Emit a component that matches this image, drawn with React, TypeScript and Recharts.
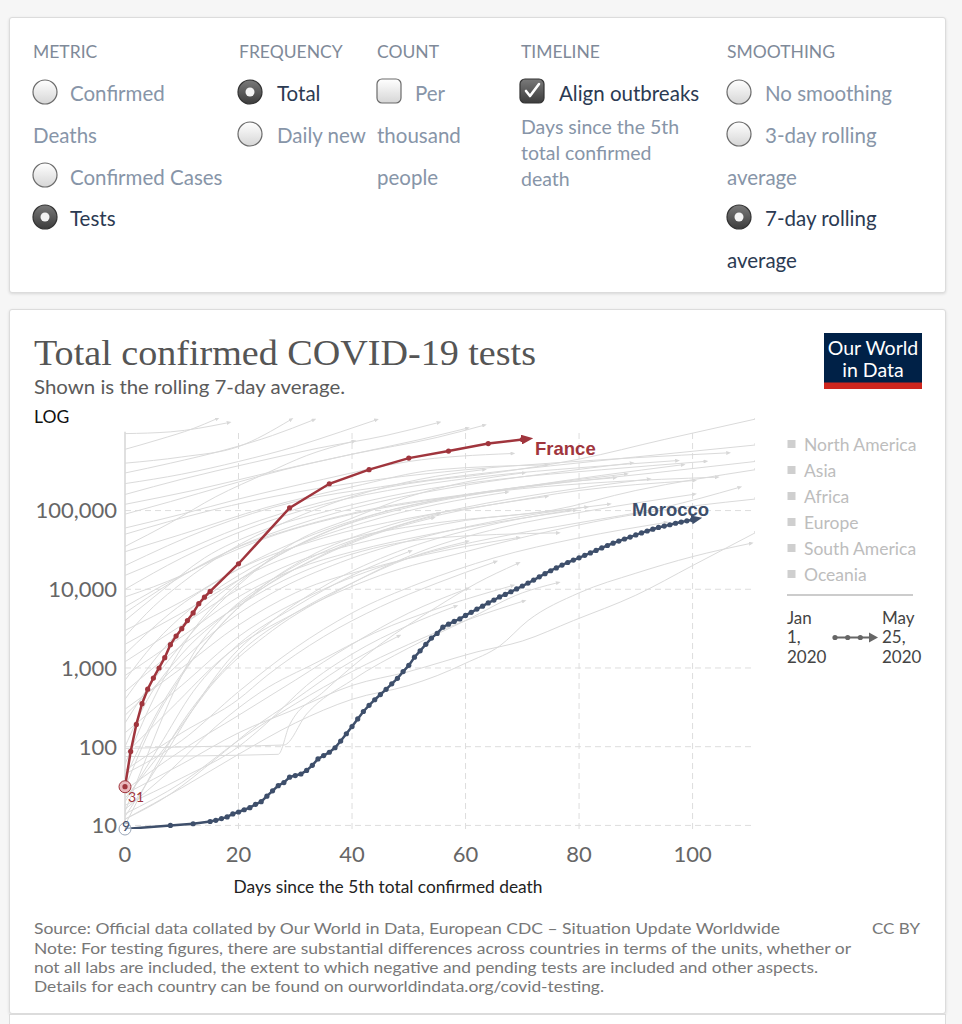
import React from "react";
import {
  LineChart,
  Line,
  XAxis,
  YAxis,
  CartesianGrid,
  ReferenceLine,
  ReferenceDot,
} from "recharts";

const FONT = "Lato, 'Noto Sans', sans-serif";
const FRANCE_COLOR = "#a0353d";
const MOROCCO_COLOR = "#3e4f6b";
const GRAY_LINE = "#dadada";

const X_TICKS = [0, 20, 40, 60, 80, 100];
const Y_TICKS = [10, 100, 1000, 10000, 100000];

const FRANCE_DAYS = [
  0, 1, 2, 3, 4, 5, 6, 7, 8, 9, 10, 11, 12, 13, 14, 15, 20, 29, 36, 43, 50, 57,
  64, 70,
];
const FRANCE_TESTS = [
  31, 87, 192, 352, 538, 745, 1000, 1350, 1980, 2540, 3160, 4000, 5000, 6560,
  7940, 9400, 21100, 108000, 219000, 331000, 464000, 570000, 710000, 800000,
];

const MOROCCO_DAYS = [
  0, 8, 12, 15, 16, 17, 18, 19, 20, 21, 22, 23, 24, 25, 26, 27, 28, 29, 30, 31,
  32, 33, 34, 35, 36, 37, 38, 39, 40, 41, 42, 43, 44, 45, 46, 47, 48, 49, 50,
  51, 52, 53, 54, 55, 56, 57, 58, 59, 60, 61, 62, 63, 64, 65, 66, 67, 68, 69,
  70, 71, 72, 73, 74, 75, 76, 77, 78, 79, 80, 81, 82, 83, 84, 85, 86, 87, 88,
  89, 90, 91, 92, 93, 94, 95, 96, 97, 98, 99, 100,
];
const MOROCCO_TESTS = [
  9, 10, 10.5, 11.2, 11.6, 12.2, 12.8, 14, 14.8, 15.8, 16.8, 18.5, 20, 23.5,
  27.5, 32, 35, 41, 43, 45, 50, 58, 70, 77, 85, 97, 118, 146, 180, 225, 280,
  335, 395, 460, 535, 630, 740, 900, 1080, 1370, 1650, 2000, 2400, 2750, 3300,
  3600, 3900, 4200, 4650, 5100, 5600, 6100, 6700, 7300, 8000, 8600, 9300,
  10100, 11000, 12000, 13100, 14400, 15800, 17200, 18700, 20300, 21900, 23500,
  25100, 27000, 29000, 31200, 33500, 36000, 38500, 41000, 43500, 46000, 49000,
  52000, 55000, 58000, 61000, 63500, 66000, 69000, 71500, 74000, 76500,
];

// other countries, [day, total tests]
const OTHER_COUNTRIES: [number, number][][] = [
  [[0, 950000], [8, 1000000], [18, 1300000]],
  [[0, 600000], [6, 800000], [12, 1100000], [16, 1450000]],
  [[0, 400000], [10, 480000], [20, 650000], [29, 1400000]],
  [[0, 300000], [8, 400000], [18, 600000], [26, 900000], [33, 1400000]],
  [[0, 220000], [10, 290000], [20, 420000], [30, 650000], [38, 1000000], [44, 1400000]],
  [[0, 160000], [10, 250000], [22, 400000], [34, 620000], [46, 900000], [55, 1300000]],
  [[0, 120000], [12, 180000], [25, 300000], [40, 520000], [55, 850000], [63, 1200000]],
  [[0, 90000], [8, 130000], [18, 210000], [28, 330000], [40, 520000], [52, 800000], [60, 1100000]],
  [[0, 60000], [10, 90000], [20, 140000], [35, 250000], [50, 420000], [68, 530000]],
  [[0, 35000], [8, 70000], [16, 150000], [25, 300000], [32, 500000], [40, 750000]],
  [[0, 30000], [10, 50000], [25, 110000], [40, 200000], [55, 330000], [74, 380000]],
  [[0, 50000], [15, 100000], [30, 170000], [45, 250000], [60, 330000], [75, 400000], [90, 470000], [106, 540000]],
  [[0, 20000], [15, 60000], [30, 130000], [45, 200000], [60, 280000], [75, 370000], [90, 480000], [111, 680000]],
  [[0, 15000], [10, 30000], [20, 60000], [35, 130000], [50, 220000], [65, 300000], [80, 450000], [95, 800000], [111, 1450000]],
  [[0, 10000], [10, 25000], [22, 60000], [35, 120000], [50, 200000], [65, 280000], [80, 350000], [97, 430000]],
  [[0, 8000], [10, 15000], [20, 35000], [30, 65000], [45, 130000], [60, 210000], [75, 300000], [89, 400000]],
  [[0, 6000], [10, 15000], [25, 45000], [40, 90000], [55, 140000], [70, 190000], [85, 230000], [104, 265000]],
  [[0, 5000], [8, 12000], [18, 30000], [30, 60000], [45, 110000], [60, 160000], [75, 220000], [86, 260000]],
  [[0, 4000], [6, 9000], [14, 25000], [24, 55000], [36, 100000], [50, 170000], [66, 250000], [84, 330000], [102, 420000]],
  [[0, 2500], [5, 6000], [10, 12000], [18, 30000], [28, 70000], [40, 150000], [52, 250000], [63, 330000]],
  [[0, 3000], [10, 7000], [20, 18000], [35, 45000], [50, 80000], [65, 120000], [80, 180000], [100, 240000]],
  [[0, 2000], [10, 5000], [25, 20000], [40, 45000], [55, 70000], [70, 90000], [81, 110000]],
  [[0, 1500], [8, 5000], [18, 15000], [30, 40000], [44, 90000], [58, 150000], [72, 210000], [88, 290000]],
  [[0, 1200], [10, 3500], [20, 10000], [30, 22000], [45, 45000], [60, 75000], [75, 100000], [90, 180000], [111, 330000]],
  [[0, 800], [10, 2500], [20, 8000], [30, 18000], [40, 30000], [55, 52000], [70, 80000], [79, 100000]],
  [[0, 700], [5, 2000], [12, 6000], [20, 15000], [30, 35000], [42, 70000], [55, 120000], [67, 170000]],
  [[0, 500], [8, 1500], [18, 5000], [28, 13000], [40, 28000], [55, 45000], [76, 52000]],
  [[0, 400], [6, 1500], [14, 6000], [24, 20000], [36, 55000], [50, 110000], [64, 170000], [78, 230000], [93, 300000], [111, 420000]],
  [[0, 300], [10, 1000], [20, 3500], [30, 9000], [45, 20000], [60, 35000], [69, 45000]],
  [[0, 250], [8, 900], [16, 3000], [26, 9000], [38, 22000], [52, 45000], [68, 80000], [85, 120000]],
  [[0, 200], [5, 700], [10, 2000], [15, 5000], [22, 15000], [30, 40000], [40, 80000], [50, 150000], [60, 230000], [70, 300000]],
  [[0, 150], [10, 600], [20, 2500], [35, 10000], [50, 25000], [65, 45000], [80, 70000], [95, 110000], [108, 195000]],
  [[0, 100], [4, 400], [10, 1500], [18, 5000], [28, 15000], [38, 35000], [50, 70000], [62, 110000], [74, 150000]],
  [[0, 80], [8, 300], [18, 1500], [30, 5000], [45, 15000], [60, 30000], [75, 55000], [90, 90000], [111, 140000]],
  [[0, 95], [12, 100], [28, 105], [32, 260], [40, 700], [50, 1800], [60, 4000], [70, 9000], [76, 12000]],
  [[0, 75], [27, 80], [29, 190], [35, 500], [45, 2000], [55, 6000], [62, 12000], [69, 21000]],
  [[0, 60], [5, 400], [12, 3000], [20, 12000], [30, 35000], [42, 80000], [56, 140000], [70, 200000], [84, 280000], [98, 380000]],
  [[0, 50], [10, 150], [20, 400], [25, 800], [35, 2500], [45, 6000], [55, 12000], [65, 22000]],
  [[0, 45], [10, 120], [20, 500], [30, 1800], [40, 5000], [52, 12000], [65, 25000], [80, 45000], [95, 70000]],
  [[0, 40], [6, 300], [14, 2000], [22, 8000], [32, 25000], [45, 60000], [60, 110000], [75, 170000], [92, 250000]],
  [[0, 30], [5, 200], [10, 800], [16, 3000], [24, 10000], [34, 25000], [44, 50000], [54, 80000]],
  [[0, 28], [10, 90], [20, 250], [30, 700], [40, 2000], [50, 5000], [60, 10000]],
  [[0, 25], [10, 60], [20, 150], [30, 300], [40, 600], [50, 900], [62, 1600], [70, 2200], [79, 4000], [90, 8400], [100, 20000], [111, 52000]],
  [[0, 22], [8, 120], [16, 700], [26, 3000], [38, 10000], [52, 30000], [66, 60000], [82, 100000], [100, 160000]],
  [[0, 20], [6, 100], [12, 500], [20, 2000], [30, 6000], [40, 15000], [50, 30000]],
  [[0, 18], [10, 40], [20, 100], [25, 200], [32, 600], [40, 1500], [50, 3500], [58, 6000]],
  [[0, 16], [8, 50], [16, 180], [24, 500], [34, 1200], [44, 2800], [56, 6000], [68, 11000]],
  [[0, 15], [4, 80], [8, 400], [12, 1500], [18, 5000], [25, 12000], [35, 30000], [45, 55000], [55, 90000]],
  [[0, 14], [10, 35], [20, 120], [30, 350], [40, 900], [50, 2000], [60, 4000], [70, 7000]],
  [[0, 13], [6, 60], [12, 300], [18, 1200], [26, 4000], [36, 12000], [48, 30000], [62, 60000], [78, 100000]],
  [[0, 12], [10, 30], [20, 80], [30, 200], [40, 400], [50, 600], [55, 800], [60, 1150], [66, 1900], [71, 4000], [80, 9000], [90, 16000], [100, 26000], [110, 38000]],
  [[0, 12], [8, 25], [16, 70], [22, 160], [30, 400], [38, 1000], [48, 2500]],
  [[0, 10], [5, 50], [10, 200], [15, 600], [20, 1500], [30, 5000], [40, 12000], [50, 25000], [60, 40000]],
];

const REGIONS = ["North America", "Asia", "Africa", "Europe", "South America", "Oceania"];

const franceData = FRANCE_DAYS.map((day, i) => ({ day, value: FRANCE_TESTS[i] }));
const moroccoData = MOROCCO_DAYS.map((day, i) => ({ day, value: MOROCCO_TESTS[i] }));
const otherData = OTHER_COUNTRIES.map((pts) => pts.map(([day, value]) => ({ day, value })));

const DIM = "#8795a8";
const DARK = "#2b3a52";
const HEAD = "#7f8a99";

function Radio({ cx, cy, on }: { cx: number; cy: number; on?: boolean }) {
  return (
    <g>
      <circle
        cx={cx}
        cy={cy}
        r={12}
        fill={on ? "url(#radOn)" : "url(#radOff)"}
        stroke={on ? "#333" : "#6b6b6b"}
        strokeWidth={1.2}
      />
      {on && <circle cx={cx} cy={cy} r={4.5} fill="#f4f4f4" />}
    </g>
  );
}

function Check({ cx, cy, on }: { cx: number; cy: number; on?: boolean }) {
  return (
    <g>
      <rect
        x={cx - 12}
        y={cy - 12}
        width={24}
        height={24}
        rx={5}
        fill={on ? "url(#radOn)" : "url(#radOff)"}
        stroke={on ? "#333" : "#6b6b6b"}
        strokeWidth={1.2}
      />
      {on && (
        <path
          d={`M${cx - 6},${cy} L${cx - 2},${cy + 5} L${cx + 7},${cy - 7}`}
          fill="none"
          stroke="#fff"
          strokeWidth={2.6}
          strokeLinecap="round"
          strokeLinejoin="round"
        />
      )}
    </g>
  );
}

function Controls() {
  const t = (x: number, y: number, s: string, c: string, fs = 20.5) => (
    <text x={x} y={y} fill={c} fontSize={fs} fontFamily={FONT}>
      {s}
    </text>
  );
  return (
    <svg width={962} height={300} style={{ position: "absolute", left: 0, top: 0 }}>
      <defs>
        <linearGradient id="radOff" x1="0" y1="0" x2="0" y2="1">
          <stop offset="0" stopColor="#ffffff" />
          <stop offset="1" stopColor="#d6d6d6" />
        </linearGradient>
        <linearGradient id="radOn" x1="0" y1="0" x2="0" y2="1">
          <stop offset="0" stopColor="#7a7a7a" />
          <stop offset="1" stopColor="#3c3c3c" />
        </linearGradient>
      </defs>
      {t(33, 58, "METRIC", HEAD, 17.5)}
      {t(239, 58, "FREQUENCY", HEAD, 17.5)}
      {t(377, 58, "COUNT", HEAD, 17.5)}
      {t(521, 58, "TIMELINE", HEAD, 17.5)}
      {t(727, 58, "SMOOTHING", HEAD, 17.5)}

      <Radio cx={45} cy={92} />
      {t(70, 101, "Confirmed", DIM)}
      {t(33, 143, "Deaths", DIM)}
      <Radio cx={45} cy={175} />
      {t(70, 185, "Confirmed Cases", DIM)}
      <Radio cx={45} cy={217} on />
      {t(70, 226, "Tests", DARK)}

      <Radio cx={250} cy={92} on />
      {t(277, 101, "Total", DARK)}
      <Radio cx={250} cy={134} />
      {t(277, 143, "Daily new", DIM)}

      <Check cx={389} cy={91} />
      {t(415, 101, "Per", DIM)}
      {t(377, 143, "thousand", DIM)}
      {t(377, 185, "people", DIM)}

      <Check cx={532} cy={91} on />
      {t(559, 101, "Align outbreaks", DARK)}
      {t(521, 134, "Days since the 5th", DIM, 19.5)}
      {t(521, 160, "total confirmed", DIM, 19.5)}
      {t(521, 186, "death", DIM, 19.5)}

      <Radio cx={739} cy={92} />
      {t(765, 101, "No smoothing", DIM)}
      <Radio cx={739} cy={134} />
      {t(765, 143, "3-day rolling", DIM)}
      {t(727, 185, "average", DIM)}
      <Radio cx={739} cy={217} on />
      {t(765, 226, "7-day rolling", DARK)}
      {t(727, 268, "average", DARK)}
    </svg>
  );
}

function ChartText() {
  return (
    <svg
      width={962}
      height={1024}
      style={{ position: "absolute", left: 0, top: 0, pointerEvents: "none" }}
    >
      <text
        x={34}
        y={365}
        fontSize={36}
        fill="#555"
        fontFamily="'Liberation Serif', 'DejaVu Serif', serif"
        textLength={502}
        lengthAdjust="spacingAndGlyphs"
      >
        Total confirmed COVID-19 tests
      </text>
      <text x={34} y={394} fontSize={19.5} fill="#5b5b5b" fontFamily={FONT} textLength={311} lengthAdjust="spacingAndGlyphs">
        Shown is the rolling 7-day average.
      </text>
      <text x={34} y={422.5} fontSize={17.5} fill="#111" fontFamily={FONT}>
        LOG
      </text>

      <rect x={824} y={333} width={98} height={56} fill="#002147" />
      <rect x={824} y={382.5} width={98} height={6.5} fill="#ce261e" />
      <text x={873} y={355} fontSize={19.5} fill="#fff" fontFamily={FONT} textAnchor="middle">
        Our World
      </text>
      <text x={873} y={376.5} fontSize={19.5} fill="#fff" fontFamily={FONT} textAnchor="middle">
        in Data
      </text>

      {REGIONS.map((r, i) => (
        <g key={r}>
          <rect x={787.5} y={440 + i * 26} width={8} height={8} fill="#cfcfcf" />
          <text x={804} y={450.7 + i * 26} fontSize={17.5} fill="#bdbdbd" fontFamily={FONT}>
            {r}
          </text>
        </g>
      ))}
      <line x1={787} y1={595} x2={913} y2={595} stroke="#cccccc" strokeWidth={2} />

      {["Jan", "1,", "2020"].map((s, i) => (
        <text key={s} x={787} y={624 + i * 19.4} fontSize={17} fill="#444" fontFamily={FONT}>
          {s}
        </text>
      ))}
      {["May", "25,", "2020"].map((s, i) => (
        <text key={s + "m"} x={882} y={624 + i * 19.4} fontSize={17} fill="#444" fontFamily={FONT}>
          {s}
        </text>
      ))}
      <line x1={834} y1={637.5} x2={871} y2={637.5} stroke="#666" strokeWidth={1.8} />
      <circle cx={835} cy={637.5} r={2.6} fill="#666" />
      <circle cx={847.7} cy={637.5} r={2.6} fill="#666" />
      <circle cx={860.3} cy={637.5} r={2.6} fill="#666" />
      <path d="M869,632.5 L878,637.5 L869,642.5 Z" fill="#666" />

      <text x={535} y={455} fontSize={18.5} fontWeight="bold" fill={FRANCE_COLOR} fontFamily="'Liberation Sans', Arial, sans-serif">
        France
      </text>
      <text x={632} y={516} fontSize={18.5} fontWeight="bold" fill={MOROCCO_COLOR} fontFamily="'Liberation Sans', Arial, sans-serif">
        Morocco
      </text>

      <text x={233.5} y={892.5} fontSize={17.5} fill="#222" fontFamily={FONT} textLength={309} lengthAdjust="spacingAndGlyphs">
        Days since the 5th total confirmed death
      </text>

      <text x={34} y={934} fontSize={15.5} fill="#777" fontFamily={FONT} textLength={746} lengthAdjust="spacingAndGlyphs">
        Source: Official data collated by Our World in Data, European CDC – Situation Update Worldwide
      </text>
      <text x={872} y={934} fontSize={15.5} fill="#777" fontFamily={FONT} textLength={48} lengthAdjust="spacingAndGlyphs">
        CC BY
      </text>
      <text x={34} y={953.5} fontSize={15.5} fill="#777" fontFamily={FONT} textLength={817} lengthAdjust="spacingAndGlyphs">
        Note: For testing figures, there are substantial differences across countries in terms of the units, whether or
      </text>
      <text x={34} y={973} fontSize={15.5} fill="#777" fontFamily={FONT} textLength={784} lengthAdjust="spacingAndGlyphs">
        not all labs are included, the extent to which negative and pending tests are included and other aspects.
      </text>
      <text x={34} y={992} fontSize={15.5} fill="#777" fontFamily={FONT} textLength={570} lengthAdjust="spacingAndGlyphs">
        Details for each country can be found on ourworldindata.org/covid-testing.
      </text>
    </svg>
  );
}

const fmt = (v: number) => v.toLocaleString("en-US");

export default function App() {
  return (
    <div
      style={{
        position: "absolute",
        left: 0,
        top: 0,
        width: 962,
        height: 1024,
        background: "#f6f6f6",
        overflow: "hidden",
        fontFamily: FONT,
      }}
    >
      <svg width={0} height={0} style={{ position: "absolute" }}>
        <defs>
          <marker id="arrFrance" viewBox="0 0 12 10" refX={1} refY={5} markerWidth={12} markerHeight={10} markerUnits="userSpaceOnUse" orient="auto">
            <path d="M0,0 L12,5 L0,10 Z" fill={FRANCE_COLOR} />
          </marker>
          <marker id="arrMorocco" viewBox="0 0 12 10" refX={1} refY={5} markerWidth={11} markerHeight={9} markerUnits="userSpaceOnUse" orient="auto">
            <path d="M0,0 L12,5 L0,10 Z" fill={MOROCCO_COLOR} />
          </marker>
          <marker id="arrGray" viewBox="0 0 12 10" refX={1} refY={5} markerWidth={5} markerHeight={4} markerUnits="userSpaceOnUse" orient="auto">
            <path d="M0,0 L12,5 L0,10 Z" fill="#d8d8d8" />
          </marker>
        </defs>
      </svg>

      <div
        style={{
          position: "absolute",
          left: 9,
          top: 17,
          width: 937,
          height: 276,
          background: "#fff",
          border: "1px solid #dcdcdc",
          borderRadius: 3,
          boxShadow: "0 1px 3px rgba(0,0,0,0.12)",
          boxSizing: "border-box",
        }}
      />
      <Controls />

      <div
        style={{
          position: "absolute",
          left: 9,
          top: 309,
          width: 937,
          height: 705,
          background: "#fff",
          border: "1px solid #dcdcdc",
          borderRadius: 3,
          boxShadow: "0 1px 3px rgba(0,0,0,0.12)",
          boxSizing: "border-box",
        }}
      />
      <div
        style={{
          position: "absolute",
          left: 9,
          top: 1014,
          width: 937,
          height: 20,
          background: "#fff",
          border: "1px solid #dcdcdc",
          boxSizing: "border-box",
        }}
      />

      <div style={{ position: "absolute", left: 0, top: 400 }}>
        <LineChart
          width={962}
          height={479}
          margin={{ top: 18, right: 207, bottom: 5, left: 25 }}
        >
          <CartesianGrid
            vertical={false}
            horizontalValues={Y_TICKS}
            stroke="#dddddd"
            strokeDasharray="6 4"
          />
          <XAxis
            type="number"
            dataKey="day"
            domain={[0, 111]}
            ticks={X_TICKS}
            allowDataOverflow
            axisLine={false}
            tickLine={false}
            tickSize={6}
            tickMargin={11}
            height={45}
            tick={{ fill: "#666", fontSize: 22, fontFamily: FONT }}
          />
          <YAxis
            type="number"
            dataKey="value"
            scale="log"
            domain={[9, 1500000]}
            ticks={Y_TICKS}
            allowDataOverflow
            axisLine={false}
            tickLine={false}
            width={100}
            tickFormatter={fmt}
            tick={{ fill: "#666", fontSize: 22, fontFamily: FONT }}
          />
          {X_TICKS.slice(1).map((d) => (
            <ReferenceLine
              key={d}
              segment={[
                { x: d, y: 9 },
                { x: d, y: 1000000 },
              ]}
              stroke="#dddddd"
              strokeDasharray="6 4"
            />
          ))}
          <ReferenceLine
            segment={[
              { x: 0, y: 9 },
              { x: 0, y: 1000000 },
            ]}
            stroke="#d6d6d6"
            strokeWidth={1.5}
          />
          {otherData.map((pts, i) => (
            <Line
              key={i}
              type="monotone"
              data={pts}
              dataKey="value"
              stroke={GRAY_LINE}
              strokeWidth={1}
              dot={false}
              markerEnd="url(#arrGray)"
              isAnimationActive={false}
            />
          ))}
          <Line
            data={moroccoData}
            dataKey="value"
            stroke={MOROCCO_COLOR}
            strokeWidth={2.5}
            dot={{ r: 2.6, fill: MOROCCO_COLOR, stroke: "none" }}
            markerEnd="url(#arrMorocco)"
            isAnimationActive={false}
          />
          <Line
            data={franceData}
            dataKey="value"
            stroke={FRANCE_COLOR}
            strokeWidth={2.5}
            dot={{ r: 2.6, fill: FRANCE_COLOR, stroke: "none" }}
            markerEnd="url(#arrFrance)"
            isAnimationActive={false}
          />
          <ReferenceDot
            x={0}
            y={31}
            shape={(p: any) => (
              <g>
                <circle cx={p.cx} cy={p.cy} r={6} fill="#e9b9bd" stroke={FRANCE_COLOR} strokeWidth={1} />
                <circle cx={p.cx} cy={p.cy} r={2.6} fill={FRANCE_COLOR} />
                <text x={p.cx + 3} y={p.cy + 15} fontSize={14} fill={FRANCE_COLOR} fontFamily={FONT}>
                  31
                </text>
              </g>
            )}
          />
          <ReferenceDot
            x={0}
            y={9}
            shape={(p: any) => (
              <g>
                <circle cx={p.cx} cy={p.cy} r={6} fill="#fff" fillOpacity={0.6} stroke="#9aa6b8" strokeWidth={1} />
                <text x={p.cx - 3} y={p.cy + 2} fontSize={14} fill={MOROCCO_COLOR} fontFamily={FONT}>
                  9
                </text>
              </g>
            )}
          />
        </LineChart>
      </div>

      <ChartText />
    </div>
  );
}
